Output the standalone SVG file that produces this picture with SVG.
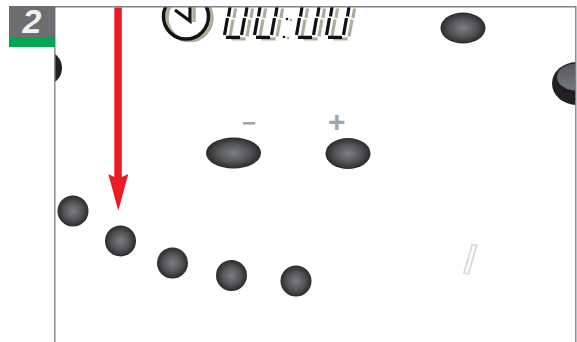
<svg xmlns="http://www.w3.org/2000/svg" xmlns:xlink="http://www.w3.org/1999/xlink" width="577" height="342" viewBox="0 0 577 342">
<style>
.btn{fill:url(#btnGrad)}
.dark{fill:#231f20}
.frame{fill:none;stroke:#808285;stroke-width:1.4}
.seg{fill:none;stroke-width:3.200}
.k{stroke:#111112}
.s{stroke:#a9b09a}
.lbl{font-family:"Liberation Sans",Arial,sans-serif;font-weight:700;fill:#a2a4a7;text-anchor:middle}
</style>
<defs>
<radialGradient id="btnGrad" cx="50%" cy="50%" r="50%">
<stop offset="0" stop-color="#7d7e81"/>
<stop offset="0.6" stop-color="#525355"/>
<stop offset="1" stop-color="#2b2b2d"/>
</radialGradient>
<linearGradient id="capGrad" x1="0" y1="0" x2="0" y2="1">
<stop offset="0" stop-color="#565759"/>
<stop offset="1" stop-color="#77787b"/>
</linearGradient>
<clipPath id="panel"><rect x="55" y="7" width="521" height="335"/></clipPath>
<g id="digit">
<path d="M6.500 7L5 16.500M23.500 7L22 16.500M4 18L1 35M21 18L18 35M2.500 37.300H16.500"/>
</g>
</defs>
<rect width="577" height="342" fill="#fff"/>
<g clip-path="url(#panel)">
<g id="clock">
<circle cx="189.500" cy="18" r="22.500" fill="none" stroke="#a9b09a" stroke-width="3.500"/>
<path d="M194 7V22" fill="none" stroke="#a9b09a" stroke-width="3.500"/>
<circle cx="186" cy="16.500" r="22.500" fill="none" stroke="#111112" stroke-width="3.500"/>
<path d="M175 10L190 21V7" fill="none" stroke="#111112" stroke-width="3.200"/>
</g>
<g id="display">
<g class="seg s">
<use xlink:href="#digit" x="229" y="1.500"/>
<use xlink:href="#digit" x="259" y="1.500"/>
<use xlink:href="#digit" x="301" y="1.500"/>
<use xlink:href="#digit" x="331" y="1.500"/>
</g>
<g class="seg k">
<use xlink:href="#digit" x="223.500"/>
<use xlink:href="#digit" x="253.500"/>
<use xlink:href="#digit" x="295.500"/>
<use xlink:href="#digit" x="325.500"/>
</g>
<circle cx="291" cy="20" r="1.300" fill="#a9b09a"/>
<circle cx="288" cy="38" r="1.300" fill="#a9b09a"/>
<circle cx="287" cy="19" r="1.300" fill="#111112"/>
<circle cx="284" cy="37" r="1.300" fill="#111112"/>
</g>
<g id="knob-left"><ellipse class="dark" cx="50" cy="68" rx="12" ry="15"/></g>
<g id="knob-right">
<ellipse class="dark" cx="577" cy="83.500" rx="25" ry="21.500"/>
<ellipse cx="577" cy="77" rx="20" ry="13.500" fill="url(#capGrad)"/>
</g>
</g>
<g id="btn-top"><ellipse class="btn" cx="463" cy="28" rx="22.500" ry="15.500"/></g>
<g id="btn-minus">
<ellipse class="btn" cx="233.500" cy="153" rx="27.500" ry="15.500"/>
<text class="lbl" x="249" y="131" font-size="24">−</text>
</g>
<g id="btn-plus">
<ellipse class="btn" cx="348" cy="153.500" rx="22.500" ry="15.500"/>
<text class="lbl" x="336.700" y="132" font-size="30">+</text>
</g>
<g id="key-1"><circle class="btn" cx="73" cy="211" r="15.500"/></g>
<g id="key-2"><circle class="btn" cx="120.500" cy="241" r="15.500"/></g>
<g id="key-3"><circle class="btn" cx="172.500" cy="263" r="15.500"/></g>
<g id="key-4"><circle class="btn" cx="231.500" cy="275.500" r="15.500"/></g>
<g id="key-5"><circle class="btn" cx="296" cy="281" r="15.500"/></g>
<g id="slot"><path d="M472.300 244.500L476.700 245.200L468.300 274L464 272.800Z" fill="none" stroke="#d9d9da" stroke-width="1.800"/></g>
<g id="frame">
<path class="frame" d="M54.800 342V6.800H575.800V342"/>
</g>
<g id="badge">
<rect x="9" y="6" width="46" height="31" fill="#6d6e71"/>
<rect x="9" y="37" width="46" height="10" fill="#00a651"/>
<text x="32" y="32.700" font-family="'Liberation Sans',Arial,sans-serif" font-weight="700" font-style="italic" font-size="34" fill="#f1f2f2" text-anchor="middle">2</text>
</g>
<g id="connectors">
<path d="M114.300 7.500H121.800V177L128.300 174L118.300 210.800L108.300 174L114.300 177Z" fill="#ed1c24"/>
</g>
</svg>
